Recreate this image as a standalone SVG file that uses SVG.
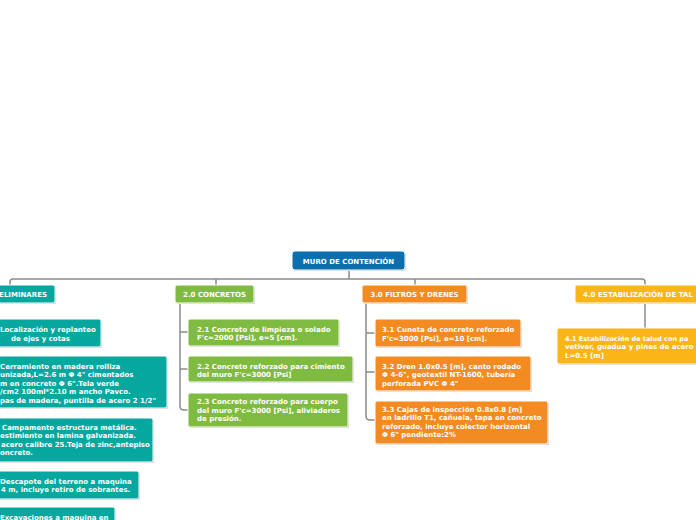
<svg xmlns="http://www.w3.org/2000/svg" width="696" height="520" viewBox="0 0 696 520">
<style>
text{font-family:"DejaVu Sans","Verdana",sans-serif;font-weight:bold;font-size:7px;fill:#fff}
.m{text-anchor:middle}
.sh{fill:#c8c8c8}
.box{stroke:#fff;stroke-width:1}
.root{fill:#0b6fad}
.t{fill:#05a79f}
.g{fill:#80bb41}
.o{fill:#f38b22}
.y{fill:#fbb516}
.c{fill:none;stroke:#8a8a8a;stroke-width:1.5}
</style>
<rect width="696" height="520" fill="#fff"/>
<g id="connectors">
<path class="c" d="M349,270 V279"/>
<path class="c" d="M10,286 V282 Q10,279 13,279 H642 Q645,279 645,282 V286"/>
<path class="c" d="M216,279 V285"/>
<path class="c" d="M415,279 V285"/>
<path class="c" d="M180,304 V406 Q180,410 184,410 H188 M180,332 H188 M180,369 H188"/>
<path class="c" d="M366,304 V416 Q366,420 370,420 H375 M366,333 H375 M366,372 H375"/>
<path class="c" d="M645,303 V328"/>
</g>
<g id="root">
<rect class="sh" x="293" y="252" width="113" height="19" rx="3"/>
<rect class="box root" x="292" y="251" width="113" height="19" rx="3"/>
<text class="m" x="348.5" y="263.5">MURO DE CONTENCIÓN</text>
</g>
<g id="n1">
<rect class="sh" x="-44" y="286" width="100" height="18" rx="2"/>
<rect class="box t" x="-45" y="285" width="100" height="18" rx="2"/>
<text x="47" y="296.5" style="text-anchor:end">ELIMINARES</text>
</g>
<g id="n11">
<rect class="sh" x="-21" y="320" width="123" height="28" rx="2"/>
<rect class="box t" x="-22" y="319" width="123" height="28" rx="2"/>
<text x="0" y="331.5">Localización y replanteo</text>
<text x="11" y="340.5">de ejes y cotas</text>
</g>
<g id="n12">
<rect class="sh" x="-21" y="357" width="189" height="52" rx="2"/>
<rect class="box t" x="-22" y="356" width="189" height="52" rx="2"/>
<text x="0" y="368.5">Cerramiento en madera rolliza</text>
<text x="0" y="377">unizada,L=2.6 m Φ 4" cimentados</text>
<text x="0" y="385.5">m en concreto Φ 6".Tela verde</text>
<text x="0" y="394">/cm2 100ml*2.10 m ancho Pavco.</text>
<text x="0" y="402.5">pas de madera, puntilla de acero 2 1/2"</text>
</g>
<g id="n13">
<rect class="sh" x="-21" y="419" width="175" height="44" rx="2"/>
<rect class="box t" x="-22" y="418" width="175" height="44" rx="2"/>
<text x="2" y="429.5">Campamento estructura metálica.</text>
<text x="0" y="438">estimiento en lamina galvanizada.</text>
<text x="1" y="446.5">acero calibre 25.Teja de zinc,antepiso</text>
<text x="0" y="455">oncreto.</text>
</g>
<g id="n14">
<rect class="sh" x="-21" y="472" width="161" height="28" rx="2"/>
<rect class="box t" x="-22" y="471" width="161" height="28" rx="2"/>
<text x="0" y="483.5">Descapote del terreno a maquina</text>
<text x="1" y="492">4 m, incluye retiro de sobrantes.</text>
</g>
<g id="n15">
<rect class="sh" x="-21" y="508" width="137" height="30" rx="2"/>
<rect class="box t" x="-22" y="507" width="137" height="30" rx="2"/>
<text x="0" y="519.5">Excavaciones a maquina en</text>
</g>
<g id="n2">
<rect class="sh" x="176" y="286" width="79" height="18" rx="2"/>
<rect class="box g" x="175" y="285" width="79" height="18" rx="2"/>
<text class="m" x="214.5" y="296.5">2.0 CONCRETOS</text>
</g>
<g id="n21">
<rect class="sh" x="189" y="320" width="151" height="27" rx="2"/>
<rect class="box g" x="188" y="319" width="151" height="27" rx="2"/>
<text x="197" y="331.5">2.1 Concreto de limpieza o solado</text>
<text x="197" y="340">F'c=2000 [Psi], e=5 [cm].</text>
</g>
<g id="n22">
<rect class="sh" x="189" y="357" width="165" height="26" rx="2"/>
<rect class="box g" x="188" y="356" width="165" height="26" rx="2"/>
<text x="197" y="368.5">2.2 Concreto reforzado para cimiento</text>
<text x="197" y="377">del muro F'c=3000 [Psi]</text>
</g>
<g id="n23">
<rect class="sh" x="189" y="394" width="160" height="34" rx="2"/>
<rect class="box g" x="188" y="393" width="160" height="34" rx="2"/>
<text x="197" y="404">2.3 Concreto reforzado para cuerpo</text>
<text x="197" y="412.5">del muro F'c=3000 [Psi], aliviaderos</text>
<text x="197" y="421">de presión.</text>
</g>
<g id="n3">
<rect class="sh" x="363" y="286" width="105" height="18" rx="2"/>
<rect class="box o" x="362" y="285" width="105" height="18" rx="2"/>
<text class="m" x="414.5" y="296.5">3.0 FILTROS Y DRENES</text>
</g>
<g id="n31">
<rect class="sh" x="376" y="320" width="146" height="28" rx="2"/>
<rect class="box o" x="375" y="319" width="146" height="28" rx="2"/>
<text x="382" y="331.5">3.1 Cuneta de concreto reforzado</text>
<text x="382" y="340.5">F'c=3000 [Psi], e=10 [cm].</text>
</g>
<g id="n32">
<rect class="sh" x="376" y="357" width="156" height="35" rx="2"/>
<rect class="box o" x="375" y="356" width="156" height="35" rx="2"/>
<text x="382" y="368.5">3.2 Dren 1.0x0.5 [m], canto rodado</text>
<text x="382" y="377">Φ 4-6", geotextil NT-1600, tubería</text>
<text x="382" y="385.5">perforada PVC Φ 4"</text>
</g>
<g id="n33">
<rect class="sh" x="376" y="402" width="173" height="43" rx="2"/>
<rect class="box o" x="375" y="401" width="173" height="43" rx="2"/>
<text x="382" y="411.5">3.3 Cajas de inspección 0.8x0.8 [m]</text>
<text x="382" y="420">en ladrillo T1, cañuela, tapa en concreto</text>
<text x="382" y="428.5">reforzado, incluye colector horizontal</text>
<text x="382" y="437">Φ 6" pendiente:2%</text>
</g>
<g id="n4">
<rect class="sh" x="576" y="286" width="140" height="18" rx="2"/>
<rect class="box y" x="575" y="285" width="140" height="18" rx="2"/>
<text x="583" y="296.5" textLength="110" lengthAdjust="spacingAndGlyphs">4.0 ESTABILIZACIÓN DE TAL</text>
</g>
<g id="n41">
<rect class="sh" x="558" y="329" width="160" height="36" rx="2"/>
<rect class="box y" x="557" y="328" width="160" height="36" rx="2"/>
<text x="565" y="340.5" style="font-size:6.5px">4.1 Estabilización de talud con pa</text>
<text x="565" y="349">vetiver, guadua y pines de acero</text>
<text x="565" y="357.5">L=0.5 [m]</text>
</g>
</svg>
